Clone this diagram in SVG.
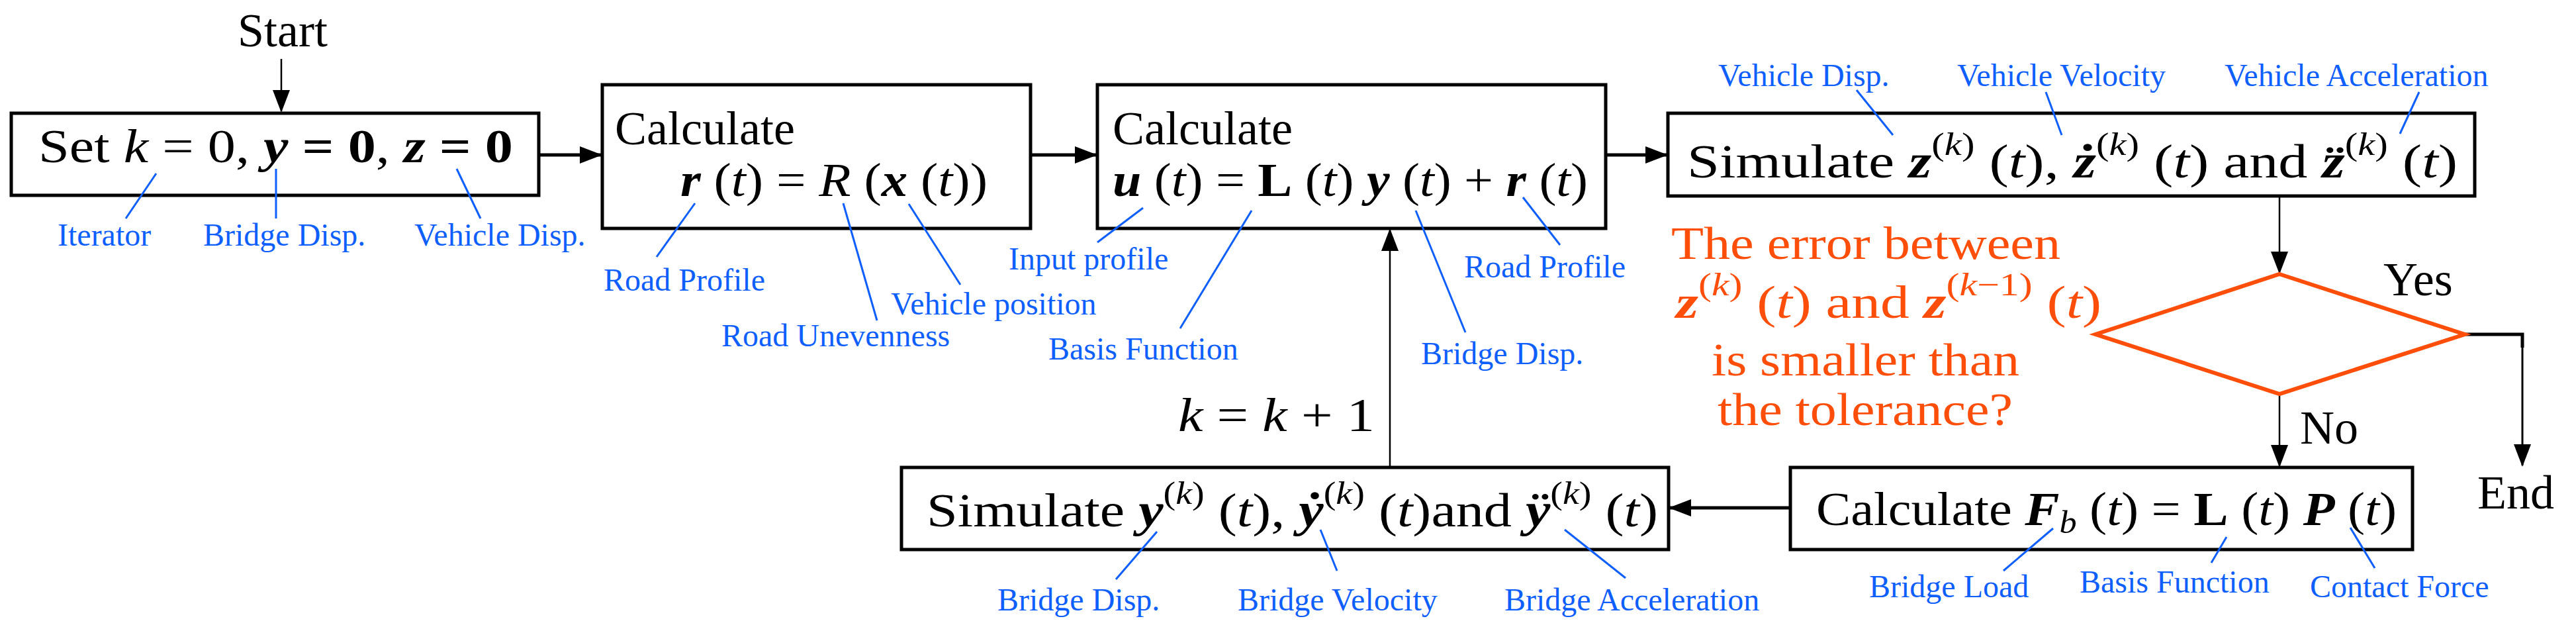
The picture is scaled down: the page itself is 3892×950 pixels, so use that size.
<svg xmlns="http://www.w3.org/2000/svg" width="3892" height="950" viewBox="0 0 3892 950">
<style>
.box{fill:#fff;stroke:#000;stroke-width:5}
.t{font-family:"Liberation Serif",serif;font-size:72px;fill:#000}
.o{font-family:"Liberation Serif",serif;font-size:70px;fill:#FF4E0A}
.l{font-family:"Liberation Serif",serif;font-size:48px;fill:#0F5FFF}
.ld{stroke:#0F5FFF;stroke-width:3;fill:none}
.i{font-style:italic}
.b{font-weight:bold;font-style:italic}
.B{font-weight:bold}
.s{font-size:48px}
.c{fill:none;stroke:#000}
</style>
<defs>
<marker id="ah" markerUnits="userSpaceOnUse" markerWidth="34" markerHeight="26" refX="32" refY="13" orient="auto"><path d="M0,0 L34,13 L0,26 Z" fill="#000"/></marker>
</defs>
<text class="t" x="427" y="70" text-anchor="middle">Start</text>
<g id="connectors">
<line class="c" stroke-width="2.5" x1="425" y1="89" x2="425" y2="168" marker-end="url(#ah)"/>
<line class="c" stroke-width="5" x1="814" y1="234" x2="908" y2="234" marker-end="url(#ah)"/>
<line class="c" stroke-width="5" x1="1557" y1="234" x2="1656" y2="234" marker-end="url(#ah)"/>
<line class="c" stroke-width="5" x1="2426" y1="234" x2="2518" y2="234" marker-end="url(#ah)"/>
<line class="c" stroke-width="2.5" x1="3444" y1="296" x2="3444" y2="412" marker-end="url(#ah)"/>
<line class="c" stroke-width="2.5" x1="3444" y1="595" x2="3444" y2="704" marker-end="url(#ah)"/>
<polyline class="c" stroke-width="5" points="3724,505 3811,505 3811,525"/>
<line class="c" stroke-width="3" x1="3811" y1="505" x2="3811" y2="703" marker-end="url(#ah)"/>
<line class="c" stroke-width="5" x1="2705" y1="767" x2="2523" y2="767" marker-end="url(#ah)"/>
<line class="c" stroke-width="2.5" x1="2100" y1="706" x2="2100" y2="347" marker-end="url(#ah)"/>
</g>
<g id="n1">
<rect class="box" x="17" y="171" width="797" height="124"/>
<text class="t" x="58" y="245" textLength="717" lengthAdjust="spacingAndGlyphs">Set <tspan class="i">k</tspan> = 0, <tspan class="b">y</tspan> <tspan class="B">= 0</tspan>, <tspan class="b">z</tspan> <tspan class="B">= 0</tspan></text>
<line class="ld" x1="236" y1="262" x2="190" y2="330"/><text class="l" x="87" y="371">Iterator</text>
<line class="ld" x1="417" y1="255" x2="417" y2="330"/><text class="l" x="307" y="371">Bridge Disp.</text>
<line class="ld" x1="690" y1="255" x2="726" y2="330"/><text class="l" x="626" y="371">Vehicle Disp.</text>
</g>
<g id="n2">
<rect class="box" x="910" y="128" width="647" height="217"/>
<text class="t" x="929" y="218">Calculate</text>
<text class="t" x="1028" y="296" textLength="464" lengthAdjust="spacingAndGlyphs"><tspan class="b">r</tspan> (<tspan class="i">t</tspan>) = <tspan class="i">R</tspan> (<tspan class="b">x</tspan> (<tspan class="i">t</tspan>))</text>
<line class="ld" x1="1050" y1="307" x2="992" y2="388"/><text class="l" x="912" y="439">Road Profile</text>
<line class="ld" x1="1274" y1="307" x2="1325" y2="484"/><text class="l" x="1090" y="523">Road Unevenness</text>
<line class="ld" x1="1373" y1="308" x2="1451" y2="430"/><text class="l" x="1346" y="475">Vehicle position</text>
</g>
<g id="n3">
<rect class="box" x="1658" y="128" width="768" height="217"/>
<text class="t" x="1681" y="218">Calculate</text>
<text class="t" x="1681" y="296" textLength="718" lengthAdjust="spacingAndGlyphs"><tspan class="b">u</tspan> (<tspan class="i">t</tspan>) = <tspan class="B">L</tspan> (<tspan class="i">t</tspan>) <tspan class="b">y</tspan> (<tspan class="i">t</tspan>) + <tspan class="b">r</tspan> (<tspan class="i">t</tspan>)</text>
<line class="ld" x1="1727" y1="314" x2="1658" y2="366"/><text class="l" x="1524" y="407">Input profile</text>
<line class="ld" x1="1891" y1="318" x2="1783" y2="496"/><text class="l" x="1584" y="543">Basis Function</text>
<line class="ld" x1="2139" y1="318" x2="2214" y2="502"/><text class="l" x="2147" y="550">Bridge Disp.</text>
<line class="ld" x1="2301" y1="298" x2="2357" y2="370"/><text class="l" x="2212" y="419">Road Profile</text>
</g>
<g id="n4">
<rect class="box" x="2520" y="171" width="1219" height="125"/>
<text class="t" x="2549" y="268" textLength="1164" lengthAdjust="spacingAndGlyphs">Simulate <tspan class="b">z</tspan><tspan class="s" dy="-34">(<tspan class="i">k</tspan>)</tspan><tspan dy="34"> (<tspan class="i">t</tspan>), </tspan><tspan class="b">ż</tspan><tspan class="s" dy="-34">(<tspan class="i">k</tspan>)</tspan><tspan dy="34"> (<tspan class="i">t</tspan>) and </tspan><tspan class="b">z̈</tspan><tspan class="s" dy="-34">(<tspan class="i">k</tspan>)</tspan><tspan dy="34"> (<tspan class="i">t</tspan>)</tspan></text>
<line class="ld" x1="2805" y1="136" x2="2860" y2="204"/><text class="l" x="2596" y="130">Vehicle Disp.</text>
<line class="ld" x1="3091" y1="139" x2="3115" y2="204"/><text class="l" x="2957" y="130">Vehicle Velocity</text>
<line class="ld" x1="3655" y1="139" x2="3626" y2="202"/><text class="l" x="3361" y="130">Vehicle Acceleration</text>
</g>
<g id="decision">
<polygon points="3444,414 3724,505 3444,595 3166,505" fill="#fff" stroke="#FF4E0A" stroke-width="6"/>
<text class="o" x="2525" y="391" textLength="588" lengthAdjust="spacingAndGlyphs">The error between</text>
<text class="o" x="2532" y="480" textLength="643" lengthAdjust="spacingAndGlyphs"><tspan class="b">z</tspan><tspan class="s" dy="-34">(<tspan class="i">k</tspan>)</tspan><tspan dy="34"> (<tspan class="i">t</tspan>) and </tspan><tspan class="b">z</tspan><tspan class="s" dy="-34">(<tspan class="i">k</tspan>−1)</tspan><tspan dy="34"> (<tspan class="i">t</tspan>)</tspan></text>
<text class="o" x="2586" y="567" textLength="465" lengthAdjust="spacingAndGlyphs">is smaller than</text>
<text class="o" x="2595" y="642" textLength="446" lengthAdjust="spacingAndGlyphs">the tolerance?</text>
<text class="t" x="3601" y="446">Yes</text>
<text class="t" x="3475" y="670">No</text>
</g>
<g id="end"><text class="t" x="3743" y="768">End</text></g>
<g id="n6">
<rect class="box" x="2705" y="706" width="940" height="124"/>
<text class="t" x="2744" y="793" textLength="877" lengthAdjust="spacingAndGlyphs">Calculate <tspan class="b">F</tspan><tspan class="i s" dy="12">b</tspan><tspan dy="-12"> (<tspan class="i">t</tspan>) = </tspan><tspan class="B">L</tspan> (<tspan class="i">t</tspan>) <tspan class="b">P</tspan> (<tspan class="i">t</tspan>)</text>
<line class="ld" x1="3102" y1="798" x2="3027" y2="862"/><text class="l" x="2824" y="902">Bridge Load</text>
<line class="ld" x1="3364" y1="811" x2="3341" y2="850"/><text class="l" x="3142" y="895">Basis Function</text>
<line class="ld" x1="3551" y1="797" x2="3588" y2="858"/><text class="l" x="3490" y="902">Contact Force</text>
</g>
<g id="n5">
<rect class="box" x="1362" y="706" width="1159" height="124"/>
<text class="t" x="1400" y="795" textLength="1105" lengthAdjust="spacingAndGlyphs">Simulate <tspan class="b">y</tspan><tspan class="s" dy="-34">(<tspan class="i">k</tspan>)</tspan><tspan dy="34"> (<tspan class="i">t</tspan>), </tspan><tspan class="b">ẏ</tspan><tspan class="s" dy="-34">(<tspan class="i">k</tspan>)</tspan><tspan dy="34"> (<tspan class="i">t</tspan>)and </tspan><tspan class="b">ÿ</tspan><tspan class="s" dy="-34">(<tspan class="i">k</tspan>)</tspan><tspan dy="34"> (<tspan class="i">t</tspan>)</tspan></text>
<line class="ld" x1="1748" y1="803" x2="1686" y2="875"/><text class="l" x="1507" y="922">Bridge Disp.</text>
<line class="ld" x1="1995" y1="800" x2="2020" y2="862"/><text class="l" x="1870" y="922">Bridge Velocity</text>
<line class="ld" x1="2364" y1="800" x2="2456" y2="873"/><text class="l" x="2273" y="922">Bridge Acceleration</text>
</g>
<text class="t" x="1780" y="651" textLength="297" lengthAdjust="spacingAndGlyphs"><tspan class="i">k</tspan> = <tspan class="i">k</tspan> + 1</text>
</svg>
